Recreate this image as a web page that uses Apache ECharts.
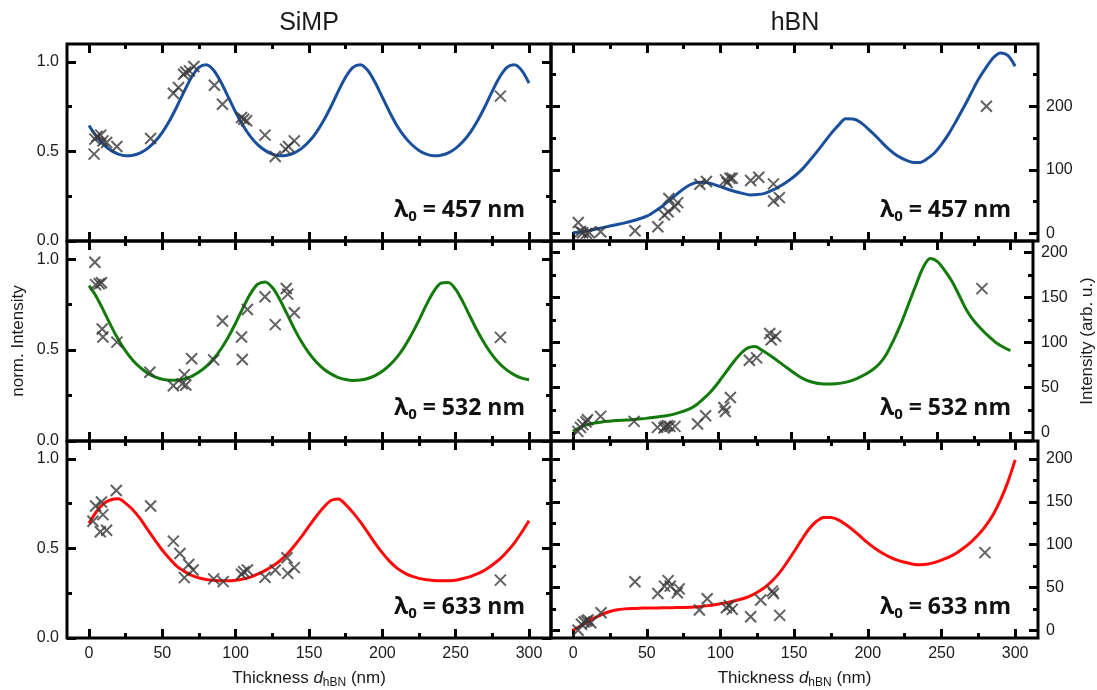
<!DOCTYPE html>
<html><head><meta charset="utf-8">
<script src="https://cdn.jsdelivr.net/npm/echarts@6/dist/echarts.min.js"></script>
<style>html,body{margin:0;padding:0;background:#fff}#c{width:1097px;height:690px}</style>
</head><body><div id="c"></div>
<script>
// ---------------- data ----------------
const xTickLabels = [0, 50, 100, 150, 200, 250, 300];
const xMinorTicks = [25, 75, 125, 175, 225, 275];
const leftTickLabels = [0, 0.5, 1.0];
const leftMinorTicks = [0.25, 0.75];
const right457TickLabels = [0, 100, 200];
const right457MinorTicks = [50, 150, 250];
const rightTickLabels = [0, 50, 100, 150, 200];
const rightMinorTicks = [25, 75, 125, 175];

// thickness grid of the fitted curves (nm)
const fitThickness = [0,5,10,15,20,25,30,35,40,45,50,55,60,65,70,75,80,85,90,95,100,105,110,115,120,125,130,135,140,145,150,155,160,165,170,175,180,185,190,195,200,205,210,215,220,225,230,235,240,245,250,255,260,265,270,275,280,285,290,295,300];

// SiMP (normalised) fits
const fitSiMP457 = [0.645,0.585,0.538,0.506,0.485,0.476,0.479,0.492,0.517,0.555,0.607,0.673,0.752,0.837,0.916,0.970,0.984,0.953,0.886,0.803,0.719,0.645,0.584,0.538,0.506,0.485,0.476,0.479,0.492,0.517,0.555,0.607,0.673,0.751,0.837,0.916,0.970,0.984,0.953,0.886,0.803,0.719,0.644,0.584,0.539,0.506,0.485,0.476,0.479,0.492,0.517,0.555,0.607,0.673,0.751,0.837,0.916,0.970,0.984,0.953,0.882];
const fitSiMP532 = [0.854,0.794,0.716,0.633,0.558,0.494,0.443,0.403,0.373,0.353,0.340,0.334,0.334,0.342,0.356,0.379,0.410,0.452,0.506,0.572,0.649,0.732,0.809,0.862,0.875,0.844,0.780,0.699,0.617,0.544,0.483,0.434,0.396,0.369,0.349,0.338,0.333,0.335,0.344,0.360,0.384,0.417,0.461,0.518,0.587,0.665,0.749,0.822,0.868,0.872,0.834,0.764,0.682,0.602,0.532,0.472,0.425,0.390,0.364,0.346,0.337];
const fitSiMP633 = [0.640,0.705,0.750,0.772,0.777,0.752,0.715,0.665,0.605,0.547,0.490,0.443,0.400,0.372,0.350,0.336,0.327,0.322,0.319,0.319,0.322,0.329,0.340,0.356,0.376,0.400,0.430,0.468,0.515,0.567,0.625,0.680,0.730,0.768,0.776,0.745,0.700,0.648,0.590,0.530,0.475,0.428,0.390,0.364,0.345,0.333,0.325,0.321,0.319,0.320,0.323,0.332,0.343,0.359,0.380,0.408,0.440,0.482,0.530,0.590,0.655];

// hBN (arb. u.) fits
const fitHBN457 = [1,2.3,4,6.5,9,11.5,14,16.5,19.5,23,27,34,42,51.5,61,70,77,80.3,80,77.5,73.5,69.5,66,63,60.5,61,63,67.5,73.7,81,89.5,100,113,127,142,157,170,180.5,180,175,165,154,142,131,122,116,112,111.5,117,126,140,157,177,198,220,242,260,276,284,280,263];
const fitHBN532 = [1,5.5,8.5,10.3,11.5,12.3,13,13.5,14,14.7,15.5,16.4,17.5,18.8,20.5,23,26,31,38,46,56,67,78,87.5,94,95.5,91,85.8,80,74,68,62.5,58,55.5,54,53.8,54,55,57,60,64,69,76,87,103,121,142,163,183,193.5,190,180,168,152,136,124,115,107,100,95,91];
const fitHBN633 = [0,5,10,14.7,19,22,24,25,25.5,25.8,26,26.1,26.2,26.3,26.5,26.7,27,27.6,28.5,29.6,31,32.6,34.5,36.8,40,44.5,50,57.5,67,79,92,105.5,118,127,131.8,131.8,129,123.5,117,109.5,102,95.5,90,85.5,82,79.5,77.5,76.5,77,79,82,85.5,90,96,103,111.5,122,135,152,173,199];

// measured points [thickness, intensity]
const ptsSiMP457 = [[3.5,0.485],[4,0.569],[5.5,0.585],[8,0.591],[9.5,0.559],[12,0.55],[19,0.528],[42,0.572],[57.5,0.825],[61,0.857],[64.5,0.931],[66,0.944],[68.5,0.95],[71.5,0.974],[85.5,0.87],[91,0.764],[104,0.69],[105.5,0.68],[107.5,0.671],[120,0.591],[127,0.472],[134,0.513],[136,0.528],[140,0.559],[280.5,0.809]];
const ptsSiMP532 = [[4,0.983],[4.5,0.86],[7,0.865],[8.5,0.87],[9,0.616],[9.5,0.572],[19,0.544],[41.5,0.378],[57.5,0.304],[63.5,0.314],[65,0.365],[66,0.308],[70,0.452],[85,0.446],[91,0.66],[104,0.572],[104.5,0.448],[108,0.723],[120,0.793],[127,0.64],[134.5,0.839],[135.5,0.808],[140,0.705],[280.5,0.57]];
const ptsSiMP633 = [[2.7,0.652],[4.5,0.737],[8.5,0.759],[9.5,0.689],[7.7,0.593],[12,0.602],[18.6,0.824],[42,0.737],[57.5,0.541],[62,0.472],[65,0.337],[68,0.41],[71,0.38],[85,0.33],[91.5,0.315],[104,0.356],[105.5,0.37],[108,0.38],[120,0.339],[127,0.38],[135,0.448],[135.5,0.361],[140,0.393],[280.5,0.323]];
const ptsHBN457 = [[3.5,17],[5,3],[6.5,1],[9,0],[11,1],[18.7,2.6],[42,4.2],[57.5,10.5],[62,29],[64.5,34],[65,55],[69,42],[71,48.4],[86,77.4],[90.5,81.6],[103.5,84.2],[104.5,80],[106.5,86.8],[108,86.8],[120.5,83.2],[126,88.4],[136,77.9],[136,51],[140,56.3],[280.5,200]];
const ptsHBN532 = [[3.4,1],[5.2,5.5],[6.8,8.5],[9,11.4],[10,14],[19,17.7],[42,12.2],[58,5.5],[62.5,4.8],[63.5,6.6],[65,7.4],[66.5,6.6],[70,6.6],[85.5,9.2],[91,18.4],[103.5,27.6],[104.5,23.2],[108,38.7],[121,80.3],[126,82.9],[135,110],[136,103],[139,107],[280.5,160]];
const ptsHBN633 = [[3.4,0],[5.7,7],[7.5,9.7],[9,10.9],[10.2,12],[12,8.9],[19,20.5],[42,56.6],[57.5,43],[62,51.6],[64.5,58],[65.9,51.6],[70.7,43.8],[72,48.4],[85.7,23.6],[91,36.8],[104,26.4],[106,29],[108,24.4],[120.5,15.9],[127.3,35.3],[135.2,45.7],[136,43],[140.2,17.4],[279.5,90.7]];

const wavelengths = ['457', '532', '633'];
const columnTitles = ['SiMP', 'hBN'];

// ---------------- layout / style ----------------
const FONT = 'Liberation Sans, Arial, sans-serif';
const TXT = '#1a1a1a';
const colors = ['#1a4f9c', '#137a0c', '#ff0a0a'];
const rowTops = [44, 241, 441];
const rowHeights = [197, 200, 198];
const cols = [{left: 67, width: 484, xMin: -15, xMax: 315}, {left: 551, width: 487, xMin: -15, xMax: 315.5}];
const rightRanges = [[-12, 298], [-9.7, 213], [-9, 221]];

const pair = ys => fitThickness.map((x, i) => [x, ys[i]]);
const panels = [];
const fitsL = [fitSiMP457, fitSiMP532, fitSiMP633];
const fitsR = [fitHBN457, fitHBN532, fitHBN633];
const ptsL = [ptsSiMP457, ptsSiMP532, ptsSiMP633];
const ptsR = [ptsHBN457, ptsHBN532, ptsHBN633];
for (let r = 0; r < 3; r++) {
  panels.push({row: r, col: 0, yMin: 0, yMax: 1.1, major: leftTickLabels, minor: leftMinorTicks, side: 'left', fit: pair(fitsL[r]), pts: ptsL[r], fmt: v => v.toFixed(1)});
  panels.push({row: r, col: 1, yMin: rightRanges[r][0], yMax: rightRanges[r][1], major: r === 0 ? right457TickLabels : rightTickLabels, minor: r === 0 ? right457MinorTicks : rightMinorTicks, side: 'right', fit: pair(fitsR[r]), pts: ptsR[r], fmt: v => String(v)});
}

const grids = [], xAxes = [], yAxes = [], series = [], graphics = [];
const tickStyle = {color: '#000', width: 3};
const crossPath = 'path://M0,0L10,10M10,0L0,10';

panels.forEach((p, g) => {
  const c = cols[p.col];
  grids.push({left: c.left, top: rowTops[p.row], width: c.width, height: rowHeights[p.row], show: true, borderColor: '#000', borderWidth: 3, backgroundColor: 'transparent', containLabel: false});
  const xb = {type: 'value', gridIndex: g, min: c.xMin, max: c.xMax, axisLine: {show: false, onZero: false}, splitLine: {show: false}};
  const isBottom = p.row === 2;
  xAxes.push(Object.assign({}, xb, {position: 'bottom',
    axisTick: {show: true, inside: true, length: 9, lineStyle: tickStyle, customValues: xTickLabels},
    axisLabel: {show: isBottom, customValues: xTickLabels, margin: 8, fontSize: 16, color: TXT, fontFamily: FONT},
    name: isBottom ? '{n|Thickness }{i|d}{s|hBN}{n| (nm)}' : '', nameLocation: 'middle', nameGap: 29,
    nameTextStyle: {rich: {
      n: {fontSize: 17, fontFamily: FONT, color: TXT, lineHeight: 22},
      i: {fontSize: 17, fontFamily: FONT, fontStyle: 'italic', color: TXT, lineHeight: 22},
      s: {fontSize: 12, fontFamily: FONT, color: TXT, lineHeight: 12, verticalAlign: 'bottom'}
    }}}));
  xAxes.push(Object.assign({}, xb, {position: 'bottom', axisTick: {show: true, inside: true, length: 5, lineStyle: tickStyle, customValues: xMinorTicks}, axisLabel: {show: false}}));
  xAxes.push(Object.assign({}, xb, {position: 'top', axisTick: {show: true, inside: true, length: 9, lineStyle: tickStyle, customValues: xTickLabels}, axisLabel: {show: false}}));
  xAxes.push(Object.assign({}, xb, {position: 'top', axisTick: {show: true, inside: true, length: 5, lineStyle: tickStyle, customValues: xMinorTicks}, axisLabel: {show: false}}));

  const other = p.side === 'left' ? 'right' : 'left';
  const yb = {type: 'value', gridIndex: g, min: p.yMin, max: p.yMax, axisLine: {show: false, onZero: false}, splitLine: {show: false}};
  let yName = '';
  if (p.row === 1) yName = p.side === 'left' ? 'norm. Intensity' : 'Intensity (arb. u.)';
  yAxes.push(Object.assign({}, yb, {position: p.side,
    axisTick: {show: true, inside: true, length: 9, lineStyle: tickStyle, customValues: p.major},
    axisLabel: {show: true, customValues: p.major, formatter: p.fmt, margin: 8, fontSize: 16, color: TXT, fontFamily: FONT},
    name: yName, nameLocation: 'middle', nameRotate: 90, nameGap: p.side === 'left' ? 40 : 46,
    nameTextStyle: {fontSize: 17, fontFamily: FONT, color: TXT}}));
  yAxes.push(Object.assign({}, yb, {position: p.side, axisTick: {show: true, inside: true, length: 5, lineStyle: tickStyle, customValues: p.minor}, axisLabel: {show: false}}));
  yAxes.push(Object.assign({}, yb, {position: other, axisTick: {show: true, inside: true, length: 9, lineStyle: tickStyle, customValues: p.major}, axisLabel: {show: false}}));
  yAxes.push(Object.assign({}, yb, {position: other, axisTick: {show: true, inside: true, length: 5, lineStyle: tickStyle, customValues: p.minor}, axisLabel: {show: false}}));

  series.push({type: 'line', xAxisIndex: 4 * g, yAxisIndex: 4 * g, data: p.fit, showSymbol: false, smooth: 0.3, lineStyle: {color: colors[p.row], width: 3}, silent: true, z: 3});
  series.push({type: 'scatter', xAxisIndex: 4 * g, yAxisIndex: 4 * g, data: p.pts, symbol: crossPath, symbolSize: 11, itemStyle: {color: 'transparent', borderColor: '#3a3a3a', borderWidth: 2}, silent: true, z: 4});

  const lamY = [210, 408, 607][p.row];
  const lamX = p.col === 0 ? 525 : 1011;
  graphics.push({type: 'text', x: lamX, y: lamY, z: 10, style: {
    text: '{a|λ}{b|0}{a| = ' + wavelengths[p.row] + ' nm}', align: 'right', verticalAlign: 'middle',
    rich: {
      a: {fontSize: 23, fontWeight: 'bold', fontFamily: 'Open Sans', fill: '#111', lineHeight: 28},
      b: {fontSize: 15, fontWeight: 'bold', fontFamily: 'Open Sans', fill: '#111', lineHeight: 15, verticalAlign: 'bottom'}
    }}});
});

graphics.push({type: 'text', x: 309, y: 23, style: {text: columnTitles[0], fontSize: 25, fontFamily: FONT, fill: TXT, align: 'center', verticalAlign: 'middle'}});
graphics.push({type: 'text', x: 795, y: 23, style: {text: columnTitles[1], fontSize: 25, fontFamily: FONT, fill: TXT, align: 'center', verticalAlign: 'middle'}});

const chart = echarts.init(document.getElementById('c'), null, {renderer: 'canvas'});
chart.setOption({
  animation: false,
  backgroundColor: '#fff',
  grid: grids, xAxis: xAxes, yAxis: yAxes, series: series, graphic: graphics
});
</script></body></html>
